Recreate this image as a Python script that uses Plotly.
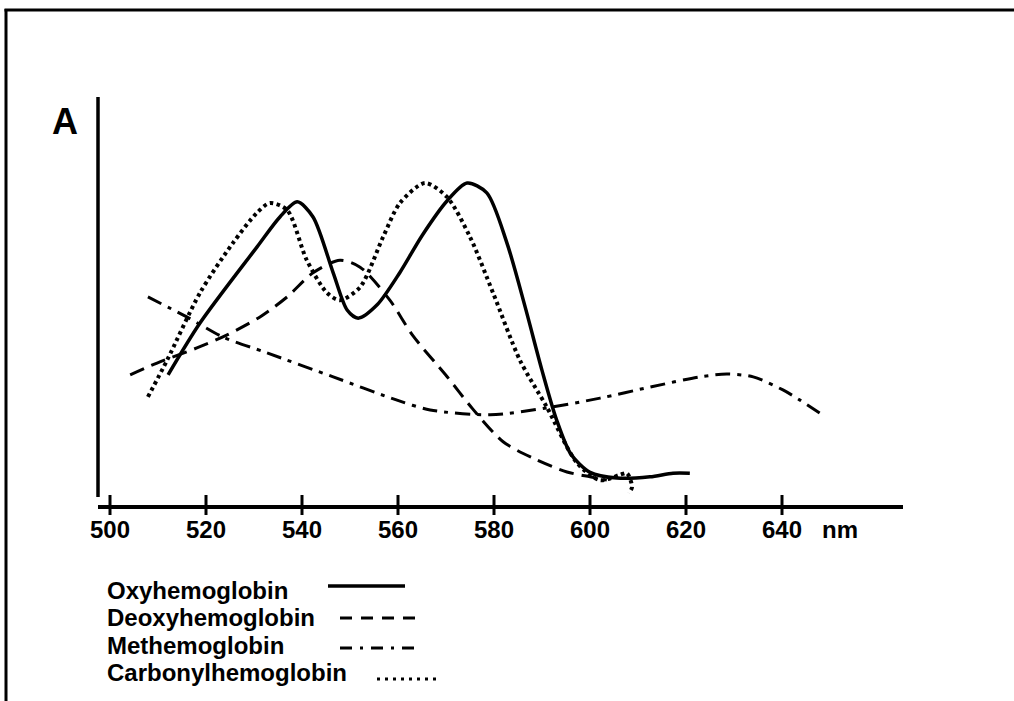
import plotly.graph_objects as go

# ---- data (wavelength nm, relative absorbance 0-100) ----
oxy_x = [512.1, 518.75, 530.6, 535.4, 539.0, 542.3, 546.5, 549.4, 551.7, 555.6, 560.4, 565.0,
         570.2, 574.4, 578.5, 582.7, 586.5, 590.0, 593.0, 596.0, 600.0, 605.6, 612.5, 617.3, 620.8]
oxy_y = [31.9, 44.6, 63.2, 70.6, 74.3, 70.6, 56.9, 47.8, 45.8, 49.0, 57.0, 66.0,
         74.5, 78.9, 76.5, 64.2, 48.5, 33.0, 21.0, 12.5, 8.0, 6.6, 6.9, 7.8, 7.8]

deoxy_x = [504.2, 509.8, 518.1, 524.4, 531.25, 536.9, 542.3, 547.9, 552.1, 558.3, 563.1,
           570.2, 575.6, 581.9, 588.1, 595.2, 600.0, 603.5]
deoxy_y = [31.9, 34.8, 38.5, 41.7, 46.1, 51.0, 56.9, 60.0, 58.3, 50.2, 41.5,
           31.5, 23.5, 15.5, 11.5, 8.1, 6.9, 6.1]

met_x = [507.9, 516.0, 523.5, 532.7, 546.5, 559.8, 566.7, 579.2, 591.0, 602.1, 612.5,
         622.9, 628.5, 634.0, 640.2, 643.75, 647.9]
met_y = [51.0, 46.1, 41.2, 37.3, 31.4, 25.7, 23.3, 22.1, 23.8, 26.2, 28.9,
         31.4, 32.1, 31.4, 28.2, 25.7, 22.5]

carb_x = [507.9, 511.9, 518.75, 525.6, 530.6, 533.3, 536.9, 541.0, 545.2, 547.9, 552.1,
          556.9, 560.4, 565.6, 570.2, 575.0, 579.8, 585.4, 591.0, 597.3, 602.1, 606.25,
          607.7, 608.75, 608.1]
carb_y = [26.5, 35.5, 52.0, 64.2, 71.6, 74.0, 72.3, 60.0, 52.0, 50.2, 53.4,
          65.7, 74.0, 78.9, 75.5, 65.7, 52.0, 35.5, 24.0, 10.3, 6.1, 7.4,
          7.8, 4.4, 2.9]

tick_vals = [500, 520, 540, 560, 580, 600, 620, 640]
unit_label = "nm"
unit_pos = 652.1
legend_names = ["Oxyhemoglobin", "Deoxyhemoglobin", "Methemoglobin", "Carbonylhemoglobin"]
panel_label = "A"

# ---- layout geometry (pixels) ----
W, H = 1014, 701
L, R, T, B = 98, 903, 97, 505
pw, ph = R - L, B - T


def px(x):
    return (x - L) / pw


def py(y):
    return (B - y) / ph


FONT = "Liberation Sans, Arial, sans-serif"

fig = go.Figure()
styles = [
    (oxy_x, oxy_y, "solid", 3.5),
    (deoxy_x, deoxy_y, "15px,8px", 3),
    (met_x, met_y, "15px,7px,4px,7px", 3),
    (carb_x, carb_y, "3.5px,3.5px", 4),
]
for (xs, ys, dash, w), name in zip(styles, legend_names):
    fig.add_trace(go.Scatter(x=xs, y=ys, mode="lines", name=name,
                             line=dict(color="black", width=w, dash=dash,
                                       shape="spline", smoothing=0.8),
                             showlegend=False, hoverinfo="skip"))

shapes = []
# tick marks crossing the x-axis
for v in tick_vals:
    shapes.append(dict(type="line", xref="x", yref="paper", x0=v, x1=v,
                       y0=py(515), y1=py(495), line=dict(color="black", width=3)))
# y axis line
shapes.append(dict(type="line", xref="paper", yref="paper", x0=px(98), x1=px(98),
                   y0=py(497), y1=py(97), line=dict(color="black", width=3.5)))
# border (left and top)
shapes.append(dict(type="line", xref="paper", yref="paper", x0=px(6), x1=px(6),
                   y0=py(9), y1=py(710), line=dict(color="black", width=3)))
shapes.append(dict(type="line", xref="paper", yref="paper", x0=px(4.5), x1=px(1020),
                   y0=py(10), y1=py(10), line=dict(color="black", width=3)))

# legend samples
leg_rows = [590, 617, 645, 672]
leg_lines = [(328, 405, 586, "solid", 3.5), (340, 415, 618, "12px,9px", 3),
             (340, 415, 648, "12px,8px,3px,8px", 3), (377, 437, 679, "3px,5px", 3)]
for (x0, x1, yy, dash, w) in leg_lines:
    shapes.append(dict(type="line", xref="paper", yref="paper", x0=px(x0), x1=px(x1),
                       y0=py(yy), y1=py(yy), line=dict(color="black", width=w, dash=dash)))

annotations = [dict(text="<b>%s</b>" % panel_label, xref="paper", yref="paper",
                    x=px(64.5), y=py(121), xanchor="center", yanchor="middle",
                    showarrow=False, font=dict(family=FONT, size=36, color="black"))]
for name, yy in zip(legend_names, leg_rows):
    annotations.append(dict(text="<b>%s</b>" % name, xref="paper", yref="paper",
                            x=px(105), y=py(yy), xanchor="left", yanchor="middle",
                            showarrow=False, font=dict(family=FONT, size=24, color="black")))

fig.update_layout(
    width=W, height=H,
    margin=dict(l=L, r=W - R, t=T, b=H - B, pad=0),
    paper_bgcolor="white", plot_bgcolor="white",
    xaxis=dict(range=[500 + (L - 110) / 4.8, 500 + (R - 110) / 4.8],
               showgrid=False, zeroline=False, showline=True, linecolor="black", linewidth=4,
               ticks="", ticklen=0, tickvals=tick_vals + [unit_pos],
               ticktext=["<b>%d</b>" % v for v in tick_vals] + ["<b>%s</b>" % unit_label],
               tickfont=dict(family=FONT, size=24, color="black"),
               ticklabelstandoff=0, fixedrange=True),
    yaxis=dict(range=[0, 100], visible=False, fixedrange=True),
    shapes=shapes, annotations=annotations,
)

fig.write_html("out.html", config={"displayModeBar": False},
               post_script="document.body.style.margin='0px';")
